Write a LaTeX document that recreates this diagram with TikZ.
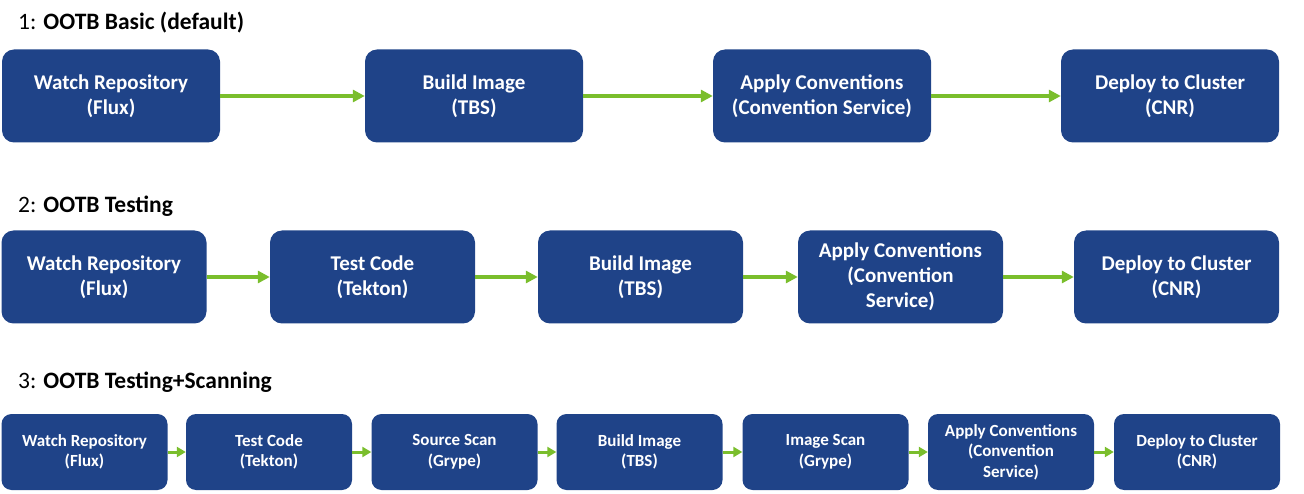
\documentclass[tikz,border=0pt]{standalone}
\usepackage{fontspec}
\setmainfont{Carlito}
\usepackage{xcolor}
\usetikzlibrary{arrows.meta,positioning}
\definecolor{stepblue}{RGB}{31,67,136}
\definecolor{flowgreen}{RGB}{122,190,44}
\tikzset{
  stage/.style={fill=stepblue,rounded corners=12pt,text=white,align=center,
    font=\fontsize{21}{25}\selectfont\bfseries,inner sep=0pt},
  stagebig/.style={stage,minimum width=218pt,minimum height=93pt},
  stagemid/.style={stage,minimum width=205pt,minimum height=93pt},
  stagesmall/.style={stage,minimum width=166pt,minimum height=76pt,rounded corners=10pt,
    font=\fontsize{17}{20.5}\selectfont\bfseries},
  flow/.style={draw=flowgreen,line width=3.5pt,-{Triangle[length=12pt,width=12pt]}},
  flowsmall/.style={draw=flowgreen,line width=3pt,-{Triangle[length=9pt,width=10pt]}},
  rowtitle/.style={anchor=west,inner sep=0pt,font=\fontsize{23.5}{28}\selectfont}
}
\begin{document}
\begin{tikzpicture}[x=1pt,y=-1pt]
  \useasboundingbox (0,0) rectangle (1304,494);

  % Row 1: basic
  \node[rowtitle] (title1) at (18,23) {1: \textbf{OOTB Basic (default)}};
  \node[stagebig] (a1) at (111,96)  {Watch Repository\\(Flux)};
  \node[stagebig] (a2) at (474,96)  {Build Image\\(TBS)};
  \node[stagebig] (a3) at (822,96)  {Apply Conventions\\(Convention Service)};
  \node[stagebig] (a4) at (1170,96) {Deploy to Cluster\\(CNR)};
  \draw[flow] (a1) -- (a2);
  \draw[flow] (a2) -- (a3);
  \draw[flow] (a3) -- (a4);

  % Row 2: testing
  \node[rowtitle] (title2) at (18,206) {2: \textbf{OOTB Testing}};
  \node[stagemid] (b1) at (104,277)    {Watch Repository\\(Flux)};
  \node[stagemid] (b2) at (372.5,277)  {Test Code\\(Tekton)};
  \node[stagemid] (b3) at (640.5,277)  {Build Image\\(TBS)};
  \node[stagemid] (b4) at (900.5,277)  {Apply Conventions\\(Convention\\Service)};
  \node[stagemid] (b5) at (1176.5,277) {Deploy to Cluster\\(CNR)};
  \foreach \s/\t in {b1/b2,b2/b3,b3/b4,b4/b5}
    \draw[flow] (\s) -- (\t);

  % Row 3: testing and scanning
  \node[rowtitle] (title3) at (18,382) {3: \textbf{OOTB Testing+Scanning}};
  \node[stagesmall] (c1) at (84.5,452)  {Watch Repository\\(Flux)};
  \node[stagesmall] (c2) at (269,452)   {Test Code\\(Tekton)};
  \node[stagesmall] (c3) at (454.5,452) {Source Scan\\(Grype)};
  \node[stagesmall] (c4) at (639.5,452) {Build Image\\(TBS)};
  \node[stagesmall] (c5) at (825.5,452) {Image Scan\\(Grype)};
  \node[stagesmall] (c6) at (1011,452)  {Apply Conventions\\(Convention\\Service)};
  \node[stagesmall] (c7) at (1197,452)  {Deploy to Cluster\\(CNR)};
  \foreach \s/\t in {c1/c2,c2/c3,c3/c4,c4/c5,c5/c6,c6/c7}
    \draw[flowsmall] (\s) -- (\t);
\end{tikzpicture}
\end{document}
